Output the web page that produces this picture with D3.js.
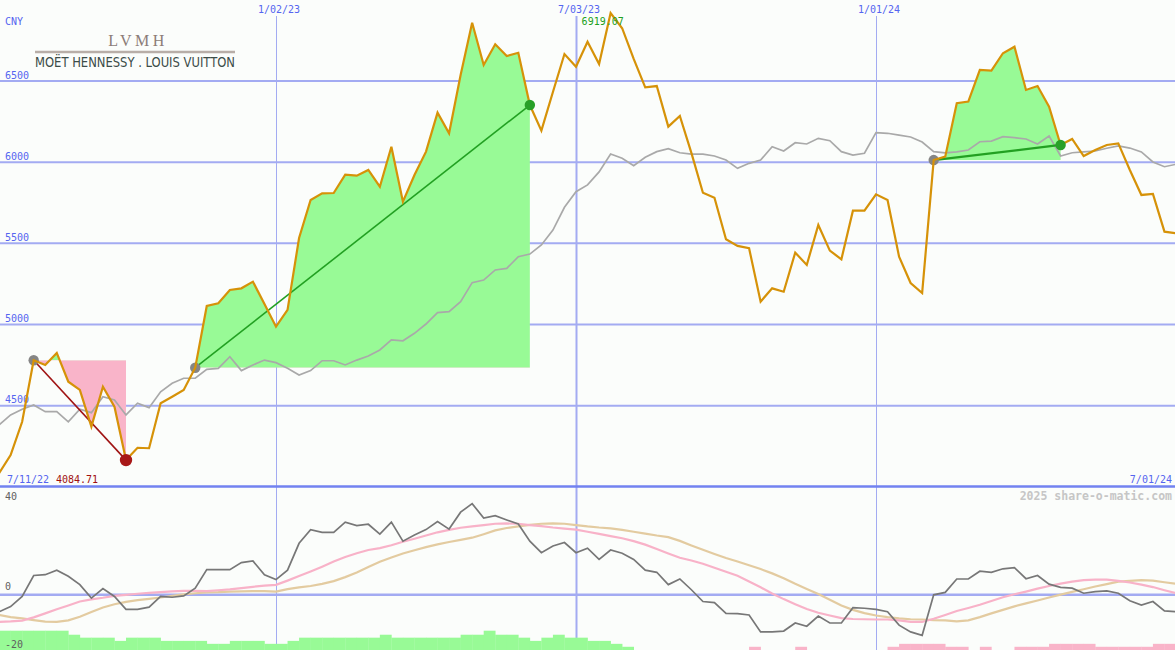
<!DOCTYPE html>
<html><head><meta charset="utf-8">
<script src="https://cdn.jsdelivr.net/npm/d3@7"></script>
<style>html,body{margin:0;padding:0;background:#fbfdfb;} svg{display:block}</style>
</head><body><svg id="c" width="1175" height="650"></svg>
<script>
// ---------- data ----------
const startDate = new Date(2022, 6, 18);
const endDate = new Date(2024, 6, 2);
const dates = d3.timeMonday.range(startDate, endDate);

const price = [4084.71,4196,4401,4780,4751,4825,4648,4597,4371,4617,
4494,4165,4241,4238,4515,4555,4597,4734,5114,5131,
5213,5223,5264,5126,4987,5090,5533,5767,5808,5810,
5923,5917,5952,5849,6095,5757,5921,6065,6305,6178,
6537,6859,6599,6726,6654,6674,6352,6194,6432,6666,
6588,6742,6605,6919.07,6825,6636,6461,6469,6219,6285,
6057,5812,5781,5525,5484,5470,5141,5223,5202,5443,
5367,5613,5455,5402,5701,5701,5802,5767,5418,5256,
5194,6013,6034,6363,6373,6568,6564,6671,6711,6445,
6469,6342,6106,6143,6038,6075,6106,6116,5952,5798,
5804,5572,5562];

const average = [4381,4443,4478,4504,4463,4463,4401,4478,4457,4555,
4535,4443,4515,4488,4586,4638,4669,4669,4724,4730,
4802,4716,4751,4781,4765,4730,4689,4716,4777,4777,
4751,4781,4806,4843,4905,4900,4946,5003,5073,5079,
5141,5258,5274,5336,5346,5418,5434,5490,5582,5722,
5818,5860,5940,6050,6024,5978,6030,6065,6083,6058,
6050,6050,6038,6013,5962,5993,6013,6095,6069,6120,
6112,6147,6132,6065,6044,6055,6182,6178,6167,6155,
6124,6065,6057,6063,6075,6126,6130,6157,6151,6143,
6112,6161,6038,6058,6063,6069,6086,6100,6087,6063,
6001,5972,5987];

const momentum = [-6.3,-4.4,-0.6,7.2,7.5,9.2,6.9,3.8,-1.2,2.3,
-0.6,-5.4,-5.4,-4.6,-0.6,-0.9,-0.4,2.5,9.4,9.4,
9.4,12.0,12.6,7.5,5.7,9.2,19.2,24.3,23.3,23.3,
27.1,25.8,26.3,22.6,27.1,20.0,22.3,24.3,27.3,24.5,
30.8,34.0,28.6,29.5,27.9,26.4,20.0,15.7,18.2,19.5,
15.7,17.4,13.2,16.7,15.5,13.2,9.2,8.4,3.8,5.9,
1.9,-2.5,-2.9,-6.9,-7.0,-7.5,-13.8,-13.8,-13.5,-10.5,
-11.7,-7.9,-10.5,-10.5,-4.8,-5.0,-5.4,-6.3,-11.3,-13.8,
-15.1,0.0,0.9,5.9,5.9,8.8,8.4,9.7,10.1,6.0,
7.2,4.0,2.8,2.5,0.6,1.2,1.5,0.6,-2.2,-3.8,
-2.5,-6.0,-6.3];

const momentumPink = [-10.1,-9.9,-9.6,-8.4,-6.9,-5.4,-4.0,-2.5,-1.7,-1.1,
-0.4,0.0,0.4,0.7,1.0,1.3,1.5,1.5,1.4,1.7,
2.0,2.5,3.0,3.4,3.7,5.3,7.0,8.7,10.5,12.4,
14.1,15.5,16.7,17.4,18.5,19.8,20.9,22.1,23.3,24.2,
25.0,25.5,26.0,26.5,26.6,26.5,26.0,25.6,25.1,24.7,
24.3,23.5,22.7,21.9,21.1,20.0,18.7,17.1,15.4,13.8,
12.8,11.6,10.1,8.6,7.1,5.0,2.8,0.5,-1.6,-3.5,
-5.3,-6.7,-7.7,-8.7,-9.0,-9.1,-9.2,-9.2,-9.5,-10.1,
-10.1,-8.9,-7.5,-6.0,-4.9,-3.7,-2.3,-0.9,0.2,1.2,
2.3,3.3,4.2,4.9,5.5,5.7,5.7,5.2,4.6,3.8,
2.9,1.7,0.6];

const momentumTan = [-7.5,-8.3,-8.8,-9.4,-10.0,-10.1,-9.5,-8.2,-6.4,-4.7,
-3.5,-2.6,-2.0,-1.5,-1.0,-0.4,0.2,0.6,0.9,1.0,
1.2,1.3,1.4,1.4,1.2,2.1,2.8,3.3,4.1,5.1,
6.6,8.3,10.4,12.3,13.9,15.4,16.6,17.8,18.8,19.7,
20.5,21.3,22.6,24.0,24.9,25.5,26.1,26.5,26.6,26.5,
26.0,25.5,25.1,24.8,24.2,23.5,22.8,22.1,21.5,20.1,
18.4,16.8,15.2,13.7,12.4,11.0,9.6,8.0,6.2,4.1,
2.2,0.3,-1.8,-4.0,-5.6,-6.8,-7.7,-8.3,-8.8,-9.1,
-9.2,-9.4,-9.5,-9.9,-9.5,-8.3,-6.9,-5.6,-4.3,-3.2,
-2.1,-1.0,0.1,1.1,2.1,3.1,4.0,4.9,5.2,5.5,
5.3,4.7,4.1];

const histogram = [7.2,7.2,7.2,7.2,7.2,7.2,5.7,4.6,4.6,4.6,
3.4,4.6,4.6,4.6,3.4,3.4,3.4,3.4,2.3,2.3,
3.4,3.4,3.4,2.3,2.3,3.4,4.6,4.6,4.6,4.6,
4.6,4.6,4.6,5.7,4.6,4.6,4.6,4.6,4.6,4.6,
5.7,5.7,7.2,5.7,5.7,4.6,3.4,4.6,5.7,4.6,
4.6,3.4,3.4,2.3,1.2,0,0,0,0,0,
0,0,0,0,0,-1.2,0,0,0,-1.2,
0,0,0,0,0,0,0,-1.2,-2.3,-2.3,
-2.3,-2.3,-1.2,-1.2,0,-1.2,0,0,-1.2,-1.2,
-1.2,-2.3,-2.3,-2.3,-2.3,-1.2,-1.2,-1.2,-1.2,-1.2,
-2.3,-2.3,-2.3];

const priceTicks = [6500, 6000, 5500, 5000, 4500];
const dateTicks = [new Date(2023, 0, 2), new Date(2023, 6, 3), new Date(2024, 0, 1)];
const dateTickLabels = ["1/02/23", "7/03/23", "1/01/24"];
const lowTicks = [40, 0, -20];
const highlights = [{from: 3, to: 11}, {from: 17, to: 46}, {from: 81, to: 92}];

// ---------- chart ----------
const W = 1175, H = 650;
const svg = d3.select("#c");
svg.append("rect").attr("width", W).attr("height", H).attr("fill", "#fbfdfb");

const x = d3.scaleTime().domain([dateTicks[0], dateTicks[2]]).range([276, 876]);
const y = d3.scaleLinear().domain([4500, 6500]).range([405.7, 81]);
const yL = d3.scaleLinear().domain([-20, 40]).range([648.5, 487.5]);
const hb = d3.scaleLinear().domain([0, 10]).range([0, 26.8]);

const gridCol = "#a3abf2";
const mono = "'DejaVu Sans Mono', monospace";

// vertical grid lines
dateTicks.forEach((d, i) => {
  svg.append("line").attr("x1", Math.round(x(d)) + 0.5).attr("x2", Math.round(x(d)) + 0.5)
    .attr("y1", 16).attr("y2", H).attr("stroke", gridCol).attr("stroke-width", i === 1 ? 2 : 1);
  svg.append("text").attr("x", x(d) + 3).attr("y", 12.5).attr("text-anchor", "middle")
    .attr("font-family", mono).attr("font-size", 10).attr("fill", "#5565f0").text(dateTickLabels[i]);
});

// horizontal price grid
priceTicks.forEach(t => {
  svg.append("line").attr("x1", 0).attr("x2", W).attr("y1", y(t)).attr("y2", y(t))
    .attr("stroke", gridCol).attr("stroke-width", 2);
  svg.append("text").attr("x", 5).attr("y", y(t) - 2.5).attr("font-family", mono)
    .attr("font-size", 10).attr("fill", "#5565f0").text(t);
});

// highlight fills
const defs = svg.append("defs");
highlights.forEach((h, n) => {
  const base = price[h.from];
  const idx = d3.range(h.from, h.to + 1);
  const area = d3.area().x(i => x(dates[i])).y0(y(base)).y1(i => y(price[i]));
  defs.append("clipPath").attr("id", "up" + n).append("rect")
    .attr("x", 0).attr("y", 0).attr("width", W).attr("height", y(base));
  defs.append("clipPath").attr("id", "dn" + n).append("rect")
    .attr("x", 0).attr("y", y(base)).attr("width", W).attr("height", H - y(base));
  svg.append("path").attr("d", area(idx)).attr("fill", "#98fa96").attr("clip-path", `url(#up${n})`);
  svg.append("path").attr("d", area(idx)).attr("fill", "#f9b4c9").attr("clip-path", `url(#dn${n})`);
});

// separator & lower panel zero line
svg.append("line").attr("x1", 0).attr("x2", W).attr("y1", 486.5).attr("y2", 486.5)
  .attr("stroke", "#7282f0").attr("stroke-width", 2.5);
svg.append("line").attr("x1", 0).attr("x2", W).attr("y1", yL(0)).attr("y2", yL(0))
  .attr("stroke", gridCol).attr("stroke-width", 2.5);

// average line
const lineP = arr => d3.line().x((d, i) => x(dates[i])).y(d => y(d))(arr);
svg.append("path").attr("d", lineP(average)).attr("fill", "none")
  .attr("stroke", "#a9a9a9").attr("stroke-width", 1.7);

// trend lines & start dots
highlights.forEach((h, n) => {
  const up = price[h.to] > price[h.from];
  svg.append("line").attr("x1", x(dates[h.from])).attr("y1", y(price[h.from]))
    .attr("x2", x(dates[h.to])).attr("y2", y(price[h.to]))
    .attr("stroke", up ? "#22a022" : "#a01414").attr("stroke-width", n === 2 ? 2.2 : 1.6);
  svg.append("circle").attr("cx", x(dates[h.from])).attr("cy", y(price[h.from]))
    .attr("r", 5.2).attr("fill", "#858585");
});

// price line
svg.append("path").attr("d", lineP(price)).attr("fill", "none")
  .attr("stroke", "#d69208").attr("stroke-width", 2.2).attr("stroke-linejoin", "miter");

// end dots
highlights.forEach(h => {
  const up = price[h.to] > price[h.from];
  svg.append("circle").attr("cx", x(dates[h.to])).attr("cy", y(price[h.to]))
    .attr("r", up ? 5.2 : 6.2).attr("fill", up ? "#28a028" : "#a81818");
});

// labels in top panel
svg.append("text").attr("x", 5).attr("y", 25).attr("font-family", mono).attr("font-size", 10)
  .attr("fill", "#5565f0").text("CNY");
const iMax = d3.maxIndex(price), iMin = d3.minIndex(price);
svg.append("text").attr("x", x(dates[iMax]) - 29).attr("y", 24.5).attr("font-family", mono)
  .attr("font-size", 10).attr("fill", "#20a020").text(d3.format(".2f")(price[iMax]));
svg.append("text").attr("x", 7).attr("y", 483).attr("font-family", mono).attr("font-size", 10)
  .attr("fill", "#5565f0").text("7/11/22");
svg.append("text").attr("x", 56).attr("y", 483).attr("font-family", mono).attr("font-size", 10)
  .attr("fill", "#a01010").text(d3.format(".2f")(price[iMin]));
svg.append("text").attr("x", 1172).attr("y", 483).attr("text-anchor", "end").attr("font-family", mono)
  .attr("font-size", 10).attr("fill", "#5565f0").text("7/01/24");

// logo
svg.append("text").attr("x", 138).attr("y", 45.5).attr("text-anchor", "middle")
  .attr("font-family", "'Liberation Serif', serif").attr("font-size", 16).attr("letter-spacing", 3.5)
  .attr("fill", "#8c7c78").text("LVMH");
svg.append("line").attr("x1", 35).attr("x2", 235).attr("y1", 52).attr("y2", 52)
  .attr("stroke", "#b8aea8").attr("stroke-width", 2.5);
svg.append("text").attr("x", 35).attr("y", 66.5).attr("textLength", 200).attr("lengthAdjust", "spacingAndGlyphs")
  .attr("font-family", "'Liberation Sans Narrow', 'DejaVu Sans Condensed', sans-serif").attr("font-size", 14)
  .attr("fill", "#3c4c48").text("MOËT HENNESSY . LOUIS VUITTON");

// lower panel: histogram bars
histogram.forEach((v, i) => {
  if (v === 0) return;
  const x0 = x(dates[i]);
  const x1 = i + 1 < dates.length ? x(dates[i + 1]) : W;
  svg.append("rect").attr("x", x0).attr("width", x1 - x0 + 0.3)
    .attr("y", H - hb(Math.abs(v))).attr("height", hb(Math.abs(v)))
    .attr("fill", v > 0 ? "#98fa96" : "#f9b4c9");
});

const lineL = arr => d3.line().x((d, i) => x(dates[i])).y(d => yL(d))(arr);
svg.append("path").attr("d", lineL(momentumTan)).attr("fill", "none")
  .attr("stroke", "#e3cba0").attr("stroke-width", 2.2);
svg.append("path").attr("d", lineL(momentumPink)).attr("fill", "none")
  .attr("stroke", "#f8b2c8").attr("stroke-width", 2.2);
svg.append("path").attr("d", lineL(momentum)).attr("fill", "none")
  .attr("stroke", "#777777").attr("stroke-width", 1.7);

// lower panel labels
lowTicks.forEach(t => {
  const yy = t === 40 ? 500 : (t === 0 ? yL(0) - 5 : 648);
  svg.append("text").attr("x", 5).attr("y", yy).attr("font-family", mono).attr("font-size", 10)
    .attr("fill", "#606060").text(t);
});
svg.append("text").attr("x", 1172).attr("y", 500).attr("text-anchor", "end").attr("font-family", mono)
  .attr("font-size", 11.5).attr("font-weight", "bold").attr("fill", "#c6c6c6").text("2025 share-o-matic.com");
</script>
</body></html>
